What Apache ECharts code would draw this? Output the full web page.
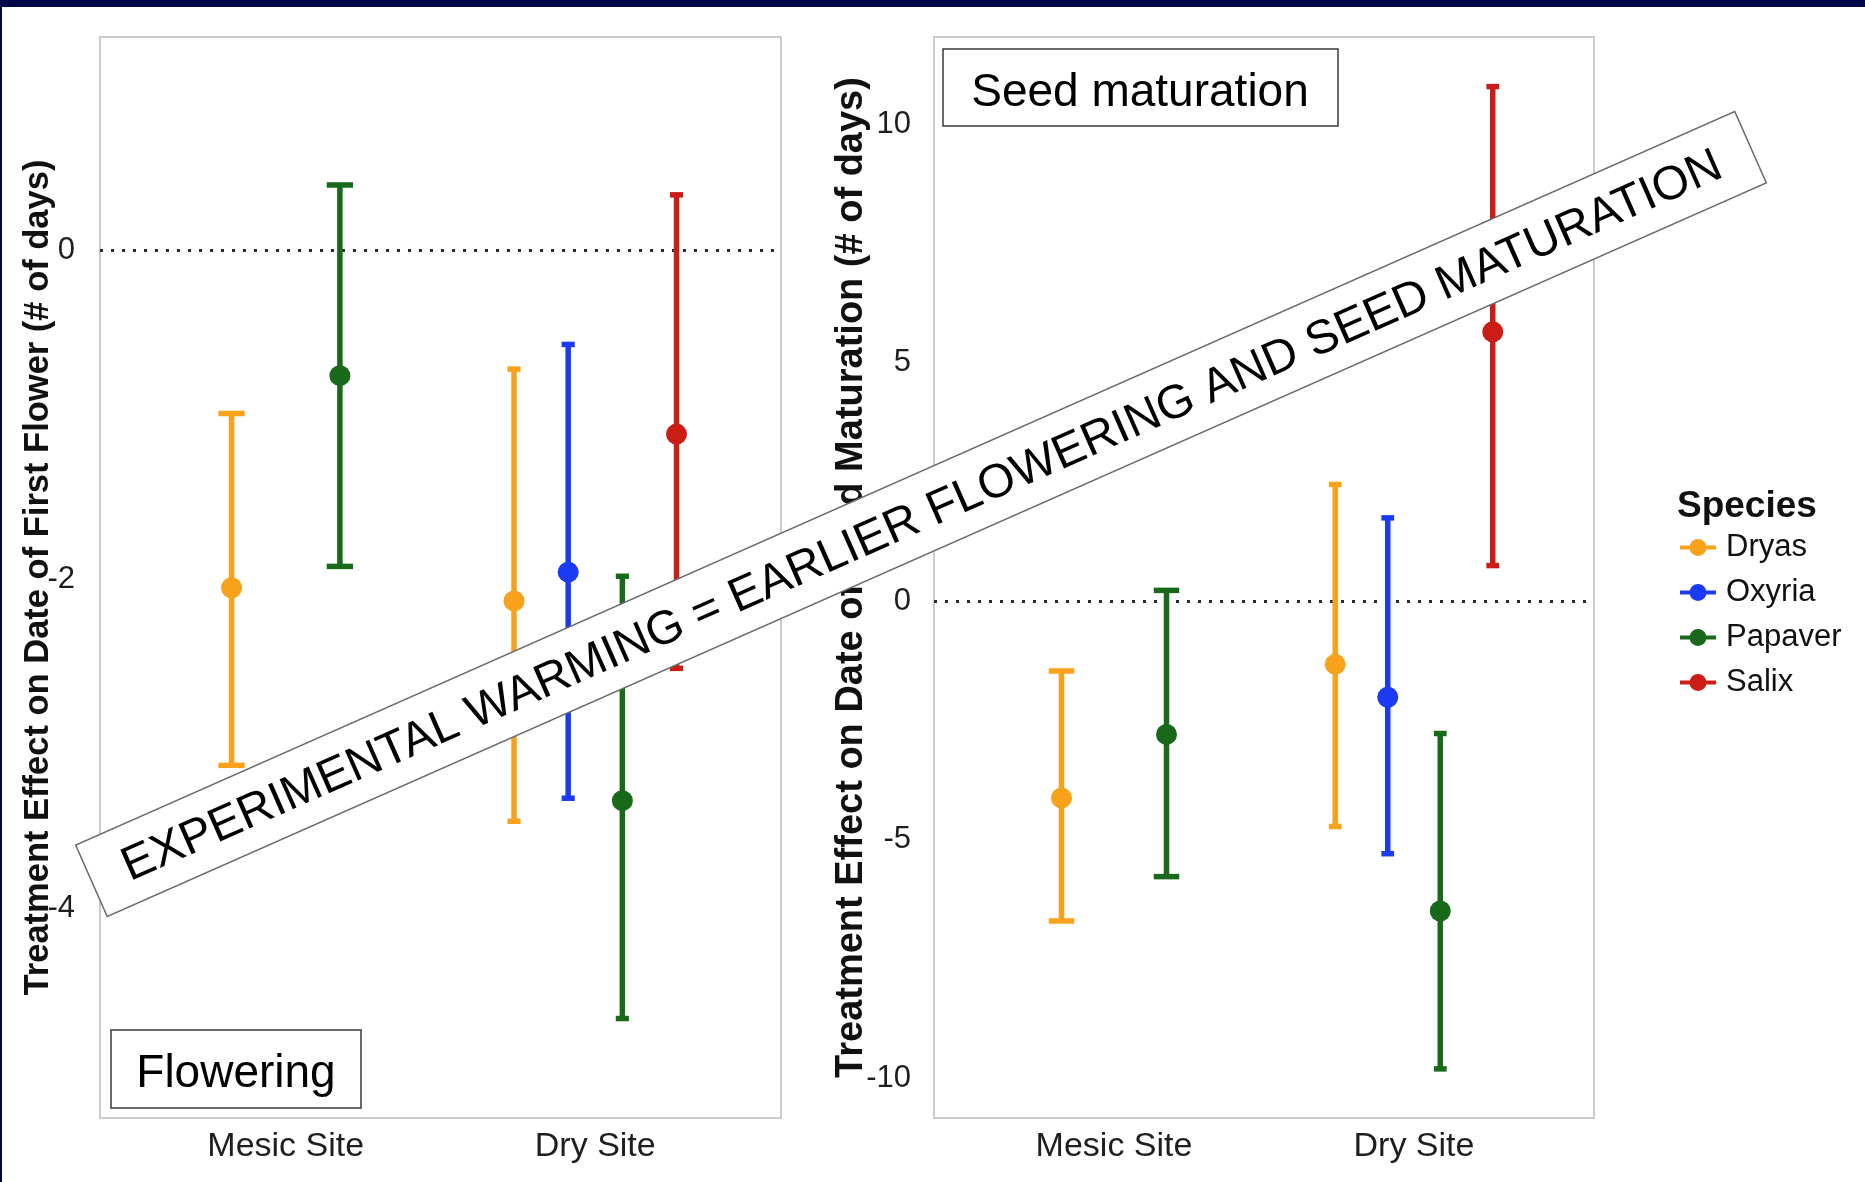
<!DOCTYPE html>
<html>
<head>
<meta charset="utf-8">
<title>Treatment effect on phenology</title>
<script src="https://cdn.jsdelivr.net/npm/echarts@6/dist/echarts.min.js"></script>
<style>
  html, body { margin: 0; padding: 0; background: #ffffff; }
  #chart { width: 1865px; height: 1182px; }
</style>
</head>
<body>
<div id="chart"></div>
<script>
// Sites on the x axis and the species plotted at each site
const sites = ['Mesic Site', 'Dry Site'];
const speciesNames = ['Dryas', 'Oxyria', 'Papaver', 'Salix'];
const speciesColors = ['#F8A21C', '#1A3BF2', '#186A1A', '#CC1C16'];

// Flowering: treatment effect on date of first flower (days)
const flowerMesicSpecies = ['Dryas', 'Papaver'];
const flowerMesicMean = [-2.05, -0.76];
const flowerMesicLow = [-3.13, -1.92];
const flowerMesicHigh = [-0.99, 0.40];
const flowerDrySpecies = ['Dryas', 'Oxyria', 'Papaver', 'Salix'];
const flowerDryMean = [-2.13, -1.955, -3.345, -1.115];
const flowerDryLow = [-3.47, -3.33, -4.67, -2.54];
const flowerDryHigh = [-0.72, -0.57, -1.98, 0.34];
const flowerTicks = [0, -2, -4];

// Seed maturation: treatment effect on date of seed maturation (days)
const seedMesicSpecies = ['Dryas', 'Papaver'];
const seedMesicMean = [-4.12, -2.79];
const seedMesicLow = [-6.70, -5.77];
const seedMesicHigh = [-1.46, 0.23];
const seedDrySpecies = ['Dryas', 'Oxyria', 'Papaver', 'Salix'];
const seedDryMean = [-1.32, -2.01, -6.49, 5.65];
const seedDryLow = [-4.72, -5.29, -9.80, 0.75];
const seedDryHigh = [2.45, 1.75, -2.77, 10.79];
const seedTicks = [10, 5, 0, -5, -10];

// dodge width of the groups and full width of the error-bar caps (x units)
const DODGE = 0.7;
const CAP_WIDTH = 0.17;
const FONT = "'Liberation Sans', Arial, Helvetica, sans-serif";

function groupRows(siteIndex, names, mean, low, high) {
  const n = names.length;
  return names.map((name, i) => ({
    name: name,
    x: siteIndex + (i - (n - 1) / 2) * DODGE / n,
    mean: mean[i], low: low[i], high: high[i],
    cap: CAP_WIDTH / n / 2
  }));
}

const flowerRows = groupRows(0, flowerMesicSpecies, flowerMesicMean, flowerMesicLow, flowerMesicHigh)
  .concat(groupRows(1, flowerDrySpecies, flowerDryMean, flowerDryLow, flowerDryHigh));
const seedRows = groupRows(0, seedMesicSpecies, seedMesicMean, seedMesicLow, seedMesicHigh)
  .concat(groupRows(1, seedDrySpecies, seedDryMean, seedDryLow, seedDryHigh));

function renderPointRange(params, api) {
  const x = api.value(0), mean = api.value(1), lo = api.value(2), hi = api.value(3), cap = api.value(4);
  const pLo = api.coord([x, lo]);
  const pHi = api.coord([x, hi]);
  const pM = api.coord([x, mean]);
  const left = api.coord([x - cap, lo])[0];
  const right = api.coord([x + cap, lo])[0];
  const color = api.visual('color');
  const stroke = { stroke: color, lineWidth: 5.5 };
  return {
    type: 'group',
    children: [
      { type: 'line', shape: { x1: pLo[0], y1: pLo[1], x2: pHi[0], y2: pHi[1] }, style: stroke },
      { type: 'line', shape: { x1: left, y1: pLo[1], x2: right, y2: pLo[1] }, style: stroke },
      { type: 'line', shape: { x1: left, y1: pHi[1], x2: right, y2: pHi[1] }, style: stroke },
      { type: 'circle', shape: { cx: pM[0], cy: pM[1], r: 10.5 }, style: { fill: color } }
    ]
  };
}

function panelSeries(rows, gridIndex) {
  return speciesNames.map((sp, k) => {
    const data = rows.filter(r => r.name === sp).map(r => [r.x, r.mean, r.low, r.high, r.cap]);
    const s = {
      type: 'custom',
      name: sp,
      xAxisIndex: gridIndex,
      yAxisIndex: gridIndex,
      itemStyle: { color: speciesColors[k] },
      renderItem: renderPointRange,
      encode: { x: 0, y: [1, 2, 3] },
      data: data,
      z: 3
    };
    if (k === 0) {
      s.markLine = {
        silent: true,
        symbol: 'none',
        label: { show: false },
        z: 1,
        lineStyle: { color: '#2a2a2a', width: 3, type: [3, 8] },
        data: [{ yAxis: 0 }]
      };
    }
    return s;
  });
}

function siteLabel(v) {
  for (let i = 0; i < sites.length; i++) {
    if (Math.abs(v - i) < 1e-6) return sites[i];
  }
  return '';
}

function tickLabel(ticks) {
  return function (v) {
    return ticks.some(t => Math.abs(t - v) < 1e-6) ? String(Math.round(v)) : '';
  };
}

function xAxisFor(gridIndex) {
  return {
    gridIndex: gridIndex,
    type: 'value',
    min: -0.6, max: 1.6, interval: 0.2,
    axisLine: { show: false }, axisTick: { show: false }, splitLine: { show: false },
    axisLabel: { formatter: siteLabel, fontFamily: FONT, fontSize: 34, color: '#1e1e1e', margin: 12 }
  };
}

const BANNER = 'EXPERIMENTAL WARMING = EARLIER FLOWERING AND SEED MATURATION';
const bannerAngle = 23.85 * Math.PI / 180;

const chart = echarts.init(document.getElementById('chart'), null, { renderer: 'canvas' });

const option = {
  backgroundColor: '#ffffff',
  animation: false,
  title: {
    text: 'Species', left: 1677, top: 488, padding: 0,
    textStyle: { fontFamily: FONT, fontSize: 37, fontWeight: 'bold', color: '#111111' }
  },
  legend: {
    data: speciesNames,
    orient: 'vertical',
    left: 1680, top: 532, padding: 0,
    itemWidth: 36, itemHeight: 17, itemGap: 14,
    icon: 'path://M0,6.5H36V10.5H0Z M9.5,8.5A8.5,8.5 0 1 1 26.5,8.5A8.5,8.5 0 1 1 9.5,8.5Z',
    textStyle: { fontFamily: FONT, fontSize: 31, lineHeight: 31, color: '#111111', padding: [0, 0, 0, 5] }
  },
  grid: [
    { left: 100, top: 37, width: 681, height: 1081, show: true, backgroundColor: '#ffffff', borderColor: '#cccccc', borderWidth: 2 },
    { left: 934, top: 37, width: 660, height: 1081, show: true, backgroundColor: '#ffffff', borderColor: '#cccccc', borderWidth: 2 }
  ],
  xAxis: [xAxisFor(0), xAxisFor(1)],
  yAxis: [
    {
      gridIndex: 0, type: 'value', min: -5.275, max: 1.3, splitNumber: 6,
      axisLine: { show: false }, axisTick: { show: false }, splitLine: { show: false },
      axisLabel: { formatter: tickLabel(flowerTicks), fontFamily: FONT, fontSize: 31, color: '#1e1e1e', margin: 25 },
      name: 'Treatment Effect on Date of First Flower (# of days)',
      nameLocation: 'middle', nameGap: 44, nameMoveOverlap: false,
      nameTextStyle: { fontFamily: FONT, fontSize: 34.5, fontWeight: 'bold', color: '#111111' }
    },
    {
      gridIndex: 1, type: 'value', min: -10.83, max: 11.83, splitNumber: 4,
      axisLine: { show: false }, axisTick: { show: false }, splitLine: { show: false },
      axisLabel: { formatter: tickLabel(seedTicks), fontFamily: FONT, fontSize: 31, color: '#1e1e1e', margin: 23 },
      name: 'Treatment Effect on Date of Seed Maturation (# of days)',
      nameLocation: 'middle', nameGap: 63, nameMoveOverlap: false,
      nameTextStyle: { fontFamily: FONT, fontSize: 38, fontWeight: 'bold', color: '#111111' }
    }
  ],
  series: panelSeries(flowerRows, 0).concat(panelSeries(seedRows, 1)),
  graphic: [
    // dark frame along the top and left edges
    { type: 'rect', z: 50, shape: { x: 0, y: 0, width: 1865, height: 7 }, style: { fill: '#01084a' } },
    { type: 'rect', z: 50, shape: { x: 0, y: 0, width: 2, height: 1182 }, style: { fill: '#01084a' } },
    // panel tags
    { type: 'rect', z: 60, shape: { x: 111, y: 1030, width: 250, height: 78 }, style: { fill: '#ffffff', stroke: '#3a3a3a', lineWidth: 1.5 } },
    { type: 'text', z: 61, style: { x: 236, y: 1074, text: 'Flowering', align: 'center', verticalAlign: 'middle', fontFamily: FONT, fontSize: 46, fill: '#000000' } },
    { type: 'rect', z: 60, shape: { x: 943, y: 49, width: 395, height: 77 }, style: { fill: '#ffffff', stroke: '#3a3a3a', lineWidth: 1.5 } },
    { type: 'text', z: 61, style: { x: 1140, y: 93, text: 'Seed maturation', align: 'center', verticalAlign: 'middle', fontFamily: FONT, fontSize: 46, fill: '#000000' } },
    // headline banner across both panels
    {
      type: 'rect', z: 100, x: 921, y: 514, rotation: bannerAngle,
      shape: { x: -907, y: -39, width: 1814, height: 78 },
      style: { fill: '#ffffff', stroke: '#6a6a6a', lineWidth: 1.5 }
    },
    {
      type: 'text', z: 101, x: 921, y: 514, rotation: bannerAngle,
      style: { x: 0, y: 3, text: BANNER, align: 'center', verticalAlign: 'middle', fontFamily: FONT, fontSize: 47.5, fill: '#000000' }
    }
  ]
};

chart.setOption(option);
</script>
</body>
</html>
